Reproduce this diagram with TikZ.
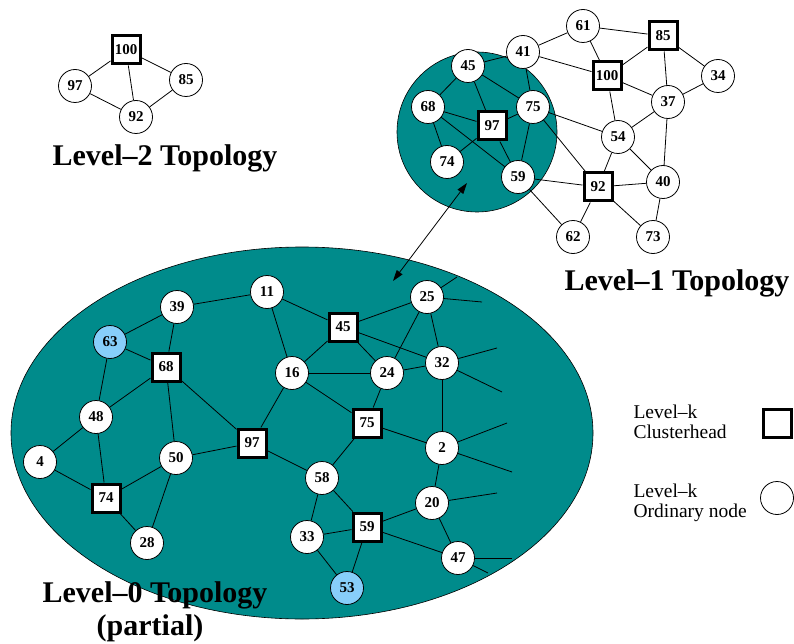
\documentclass[tikz,border=0pt]{standalone}
\usepackage{fontspec}
\setmainfont{Liberation Serif}
\usetikzlibrary{shapes, arrows.meta}
\definecolor{clus}{RGB}{0,139,139}
\definecolor{hilite}{RGB}{135,206,250}
\pgfdeclarelayer{area}
\pgfdeclarelayer{links}
\pgfsetlayers{area,links,main}

\begin{document}
\begin{tikzpicture}[x=1pt,y=-1pt,
    sq/.style={rectangle,draw,line width=3pt,fill=white,minimum size=28pt,inner sep=0pt,font=\fontsize{15}{15}\selectfont\bfseries},
    cn/.style={circle,draw,line width=0.8pt,fill=white,minimum size=33pt,inner sep=0pt,font=\fontsize{15}{15}\selectfont\bfseries},
    bn/.style={cn,fill=hilite},
    lk/.style={line width=0.8pt},
    ttl/.style={font=\fontsize{30}{32}\selectfont\bfseries},
    lgd/.style={anchor=west,align=left,font=\fontsize{19.5}{20}\selectfont}]
    \useasboundingbox (0,0) rectangle (794,644);

    % level 2
    \draw (126,50)  node[sq](t100){100};
    \draw (75,86)   node[cn](t97){97};
    \draw (186,80)  node[cn](t85){85};
    \draw (136,117) node[cn](t92){92};
    \node[ttl] (t-lbl) at (165,158) {Level--2 Topology};

    % level 1
    \draw (583,26)  node[cn](o61){61};
    \draw (663,36)  node[sq](o85){85};
    \draw (523,52)  node[cn](o41){41};
    \draw (468,66)  node[cn](o45){45};
    \draw (607,76)  node[sq](o100){100};
    \draw (718,76)  node[cn](o34){34};
    \draw (428,107) node[cn](o68){68};
    \draw (533,107) node[cn](o75){75};
    \draw (492,126) node[sq](o97){97};
    \draw (668,102) node[cn](o37){37};
    \draw (618,137) node[cn](o54){54};
    \draw (447,162) node[cn](o74){74};
    \draw (518,177) node[cn](o59){59};
    \draw (598,187) node[sq](o92){92};
    \draw (663,182) node[cn](o40){40};
    \draw (573,237) node[cn](o62){62};
    \draw (653,237) node[cn](o73){73};
    \node[ttl] (o-lbl) at (677,283) {Level--1 Topology};

    % level 0
    \draw (177,307) node[cn](z39){39};
    \draw (267,292) node[cn](z11){11};
    \draw (110,342) node[bn](z63){63};
    \draw (166,367) node[sq](z68){68};
    \draw (292,373) node[cn](z16){16};
    \draw (96,417)  node[cn](z48){48};
    \draw (40,462)  node[cn](z4){4};
    \draw (176,458) node[cn](z50){50};
    \draw (252,443) node[sq](z97){97};
    \draw (106,498) node[sq](z74){74};
    \draw (147,543) node[cn](z28){28};
    \draw (343,327) node[sq](z45){45};
    \draw (427,297) node[cn](z25){25};
    \draw (387,373) node[cn](z24){24};
    \draw (442,363) node[cn](z32){32};
    \draw (367,423) node[sq](z75){75};
    \draw (442,448) node[cn](z2){2};
    \draw (322,478) node[cn](z58){58};
    \draw (432,503) node[cn](z20){20};
    \draw (307,537) node[cn](z33){33};
    \draw (367,527) node[sq](z59){59};
    \draw (458,558) node[cn](z47){47};
    \draw (347,588) node[bn](z53){53};
    \node[ttl] (z-lbl) at (155,595) {Level--0 Topology};
    \node[ttl] (z-sub) at (150,628) {(partial)};

    % links leaving the shown part
    \coordinate (x1) at (457,277);  \coordinate (x2) at (482,302);
    \coordinate (x3) at (497,348);  \coordinate (x4) at (502,392);
    \coordinate (x5) at (507,423);  \coordinate (x6) at (512,472);
    \coordinate (x7) at (497,493);
    \coordinate (x8) at (512,558);  \coordinate (x9) at (488,573);

    % legend
    \node[lgd] (k-ch) at (630,422) {Level--k\\Clusterhead};
    \node[lgd] (k-on) at (630,503) {Level--k\\Ordinary node};
    \draw (777,423) node[sq](k-sq){};
    \draw (777,498) node[cn](k-cn){};

    \begin{pgfonlayer}{area}
        \draw[fill=clus,line width=0.6pt] (477,132) circle [radius=80pt];
        \draw[fill=clus,line width=0.6pt] (302,433) ellipse [x radius=291pt, y radius=186pt];
    \end{pgfonlayer}

    \begin{pgfonlayer}{links}
        \foreach \a/\b in {t100/t97,t100/t92,t100/t85,t97/t92,t92/t85}
            \draw[lk] (\a) -- (\b);
        \foreach \a/\b in {o41/o61,o61/o85,o61/o100,o41/o100,o41/o45,o41/o75,
                o45/o68,o45/o97,o45/o75,o68/o97,o68/o74,o68/o59,o97/o75,o97/o74,
                o97/o59,o75/o59,o75/o54,o75/o92,o100/o85,o100/o37,o100/o54,
                o85/o37,o85/o34,o34/o37,o37/o54,o37/o40,o54/o92,o54/o40,
                o59/o92,o92/o40,o59/o62,o92/o62,o92/o73,o40/o73}
            \draw[lk] (\a) -- (\b);
        \foreach \a/\b in {z39/z11,z39/z63,z39/z68,z63/z68,z63/z48,z68/z48,
                z68/z50,z68/z97,z48/z4,z48/z74,z4/z74,z74/z50,z74/z28,z50/z28,
                z50/z97,z97/z16,z97/z58,z11/z16,z11/z45,z45/z16,z45/z25,z45/z24,
                z45/z32,z16/z24,z16/z75,z25/z24,z25/z32,z24/z32,z24/z75,z75/z2,
                z75/z58,z32/z2,z2/z20,z58/z33,z58/z59,z33/z59,z33/z53,z59/z53,
                z59/z20,z59/z47,z20/z47,
                z25/x1,z25/x2,z32/x3,z32/x4,z2/x5,z2/x6,z20/x7,z47/x8,z47/x9}
            \draw[lk] (\a) -- (\b);
    \end{pgfonlayer}

    % level 1 cluster stands for the level 0 ellipse
    \coordinate (up) at (467,183);
    \coordinate (dn) at (393,281);
    \draw[{Triangle[length=11pt,width=7pt]}-{Triangle[length=11pt,width=7pt]},line width=0.8pt] (dn) -- (up);
\end{tikzpicture}
\end{document}
